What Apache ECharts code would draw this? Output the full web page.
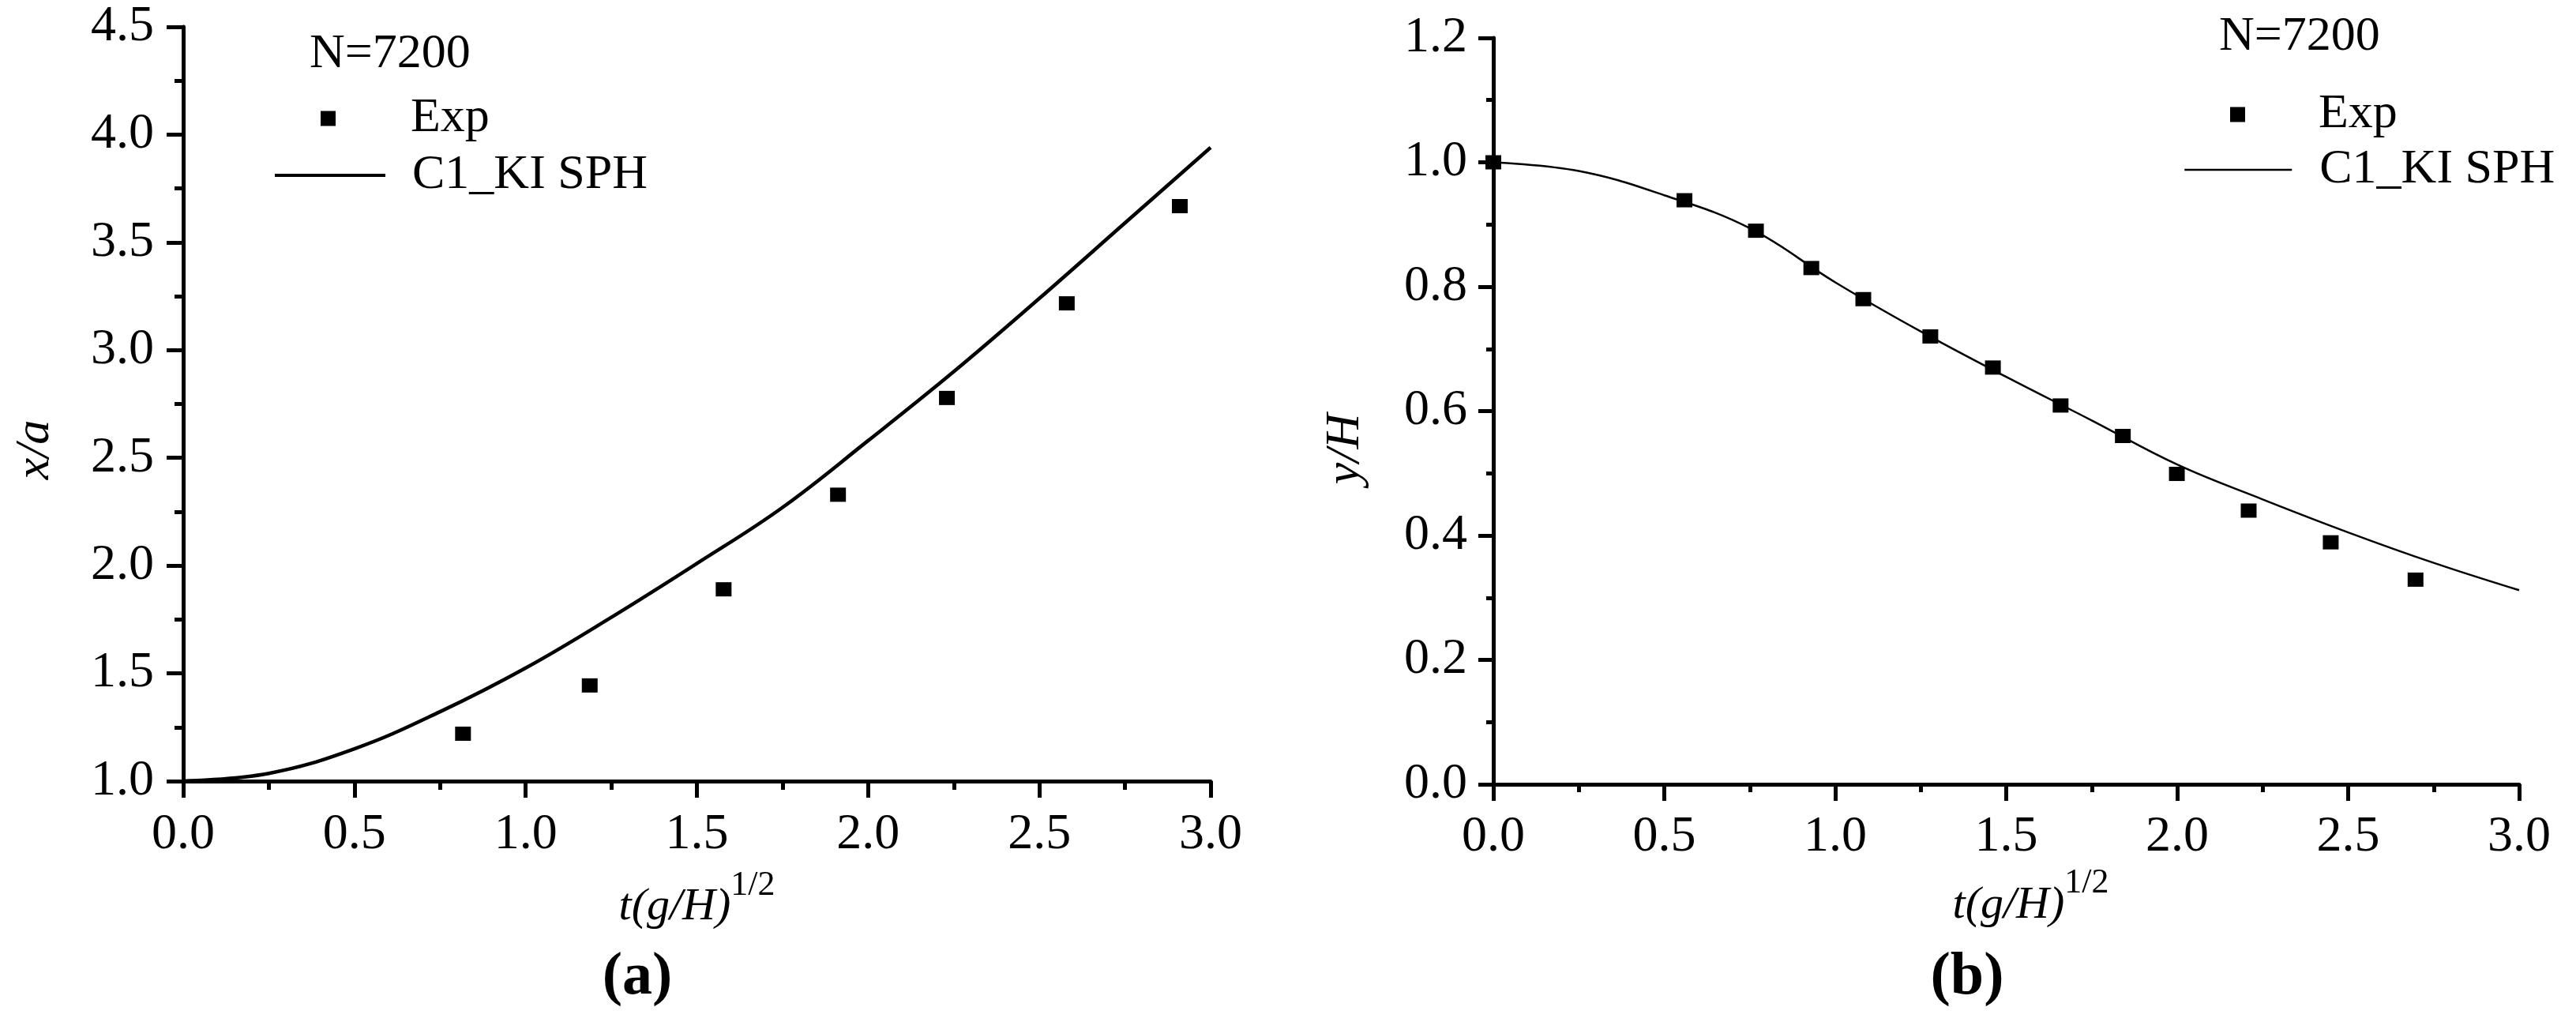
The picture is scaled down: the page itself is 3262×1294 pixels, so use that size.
<!DOCTYPE html>
<html><head><meta charset="utf-8">
<script src="https://cdn.jsdelivr.net/npm/echarts/dist/echarts.min.js"></script>
<style>html,body{margin:0;padding:0;background:#fff}#c{width:3262px;height:1294px}</style>
</head><body><div id="c"></div>
<script>
// ---- data ----
const tTicks = [0.0, 0.5, 1.0, 1.5, 2.0, 2.5, 3.0];
const xaTicks = [1.0, 1.5, 2.0, 2.5, 3.0, 3.5, 4.0, 4.5];
const yhTicks = [0.0, 0.2, 0.4, 0.6, 0.8, 1.0, 1.2];

// (a) x/a
const expA_t = [0.817, 1.187, 1.578, 1.912, 2.230, 2.580, 2.910];
const expA_x = [1.220, 1.444, 1.890, 2.329, 2.778, 3.217, 3.668];
const sphA_t = [0, 0.25, 0.5, 0.75, 1.0, 1.25, 1.5, 1.75, 2.0, 2.25, 2.5, 2.75, 3.0];
const sphA_x = [1.0, 1.036, 1.15, 1.322, 1.525, 1.76, 2.01, 2.27, 2.58, 2.90, 3.24, 3.59, 3.94];

// (b) y/H
const expB_t = [0.0, 0.559, 0.768, 0.930, 1.082, 1.278, 1.461, 1.659, 1.841, 1.999, 2.209, 2.449, 2.697];
const expB_y = [1.0, 0.939, 0.890, 0.830, 0.780, 0.720, 0.670, 0.609, 0.560, 0.499, 0.440, 0.389, 0.329];
const sphB_t = [0, 0.25, 0.5, 0.75, 1.0, 1.25, 1.5, 1.75, 2.0, 2.25, 2.5, 2.75, 3.0];
const sphB_y = [1.0, 0.986, 0.947, 0.894, 0.807, 0.728, 0.655, 0.585, 0.514, 0.458, 0.405, 0.356, 0.312];

const legendNames = ['Exp', 'C1_KI SPH'];
const labelN = 'N=7200';
const panelLabels = ['(a)', '(b)'];
const xName = ['t(g/H)', '1/2'];
const yNames = ['x/a', 'y/H'];

// ---- build ----
const zip = (a, b) => a.map((v, i) => [v, b[i]]);
const SERIF = 'Liberation Serif';

function axisCommon(ticks, margin, majorLen, minorLen) {
  return {
    type: 'value',
    min: ticks[0], max: ticks[ticks.length - 1], interval: ticks[1] - ticks[0],
    axisLine: { show: true, onZero: false, lineStyle: { color: '#000', width: 5 } },
    axisTick: { show: true, length: majorLen, lineStyle: { color: '#000', width: 5 } },
    minorTick: { show: true, splitNumber: 2, length: minorLen, lineStyle: { color: '#000', width: 5 } },
    splitLine: { show: false }, minorSplitLine: { show: false },
    axisLabel: { margin: margin, fontFamily: SERIF, fontSize: 64, color: '#000', formatter: v => v.toFixed(1) }
  };
}
function xNameCfg(gap, padLeft) {
  return {
    name: '{t|' + xName[0] + '}{s|' + xName[1] + '}',
    nameLocation: 'middle', nameGap: gap,
    nameTextStyle: {
      fontFamily: SERIF, fontSize: 58, color: '#000',
      padding: [0, 0, 0, padLeft],
      rich: {
        t: { fontFamily: SERIF, fontStyle: 'italic', fontSize: 58, lineHeight: 100, color: '#000' },
        s: { fontFamily: SERIF, fontSize: 44, lineHeight: 44, verticalAlign: 'top', color: '#000' }
      }
    }
  };
}
function yNameCfg(name, gap, pad) {
  return {
    name: name, nameLocation: 'middle', nameGap: gap, nameRotate: 90,
    nameTextStyle: { fontFamily: SERIF, fontStyle: 'italic', fontSize: 62, color: '#000', padding: [0, pad, 0, 0] }
  };
}

const option = {
  backgroundColor: '#fff',
  animation: false,
  grid: [
    { left: 232, top: 34, width: 1301, height: 955, outerBoundsMode: 'none', containLabel: false },
    { left: 1891, top: 48, width: 1299, height: 945, outerBoundsMode: 'none', containLabel: false }
  ],
  xAxis: [
    Object.assign(axisCommon(tTicks, 36, 21, 11), { gridIndex: 0 }, xNameCfg(110, 0)),
    Object.assign(axisCommon(tTicks, 35, 21, 10), { gridIndex: 1 }, xNameCfg(81, 62))
  ],
  yAxis: [
    Object.assign(axisCommon(xaTicks, 37, 21, 11), { gridIndex: 0 }, yNameCfg(yNames[0], 156, 116)),
    Object.assign(axisCommon(yhTicks, 33, 19, 9), { gridIndex: 1 }, yNameCfg(yNames[1], 156, 96))
  ],
  legend: [
    { left: 406, top: 115, padding: 0, itemWidth: 19, itemHeight: 19, data: [{ name: legendNames[0], icon: 'rect' }],
      selectedMode: false, itemStyle: { color: '#000', opacity: 1 },
      textStyle: { fontFamily: SERIF, fontSize: 62, lineHeight: 70, color: '#000', padding: [0, 0, 0, 90] } },
    { left: 346, top: 187, padding: 0, itemWidth: 140, itemHeight: 20, data: [{ name: legendNames[1] }],
      selectedMode: false, itemStyle: { opacity: 0 }, lineStyle: { width: 4, color: '#000' },
      textStyle: { fontFamily: SERIF, fontSize: 62, lineHeight: 70, color: '#000', padding: [0, 0, 0, 29] } },
    { left: 2824, top: 110, padding: 0, itemWidth: 19, itemHeight: 19, data: [{ name: legendNames[0], icon: 'rect' }],
      selectedMode: false, itemStyle: { color: '#000', opacity: 1 },
      textStyle: { fontFamily: SERIF, fontSize: 62, lineHeight: 70, color: '#000', padding: [0, 0, 0, 88] } },
    { left: 2765, top: 180, padding: 0, itemWidth: 136, itemHeight: 20, data: [{ name: legendNames[1] }],
      selectedMode: false, itemStyle: { opacity: 0 }, lineStyle: { width: 2.5, color: '#000' },
      textStyle: { fontFamily: SERIF, fontSize: 62, lineHeight: 70, color: '#000', padding: [0, 0, 0, 30] } }
  ],
  graphic: [
    { type: 'text', left: 392, top: 38, style: { text: labelN, font: '62px "Liberation Serif"', fill: '#000' } },
    { type: 'text', left: 2810, top: 16, style: { text: labelN, font: '62px "Liberation Serif"', fill: '#000' } },
    { type: 'text', x: 807, y: 1238, style: { text: panelLabels[0], font: 'bold 76px "Liberation Serif"', fill: '#000', align: 'center', verticalAlign: 'middle' } },
    { type: 'text', x: 2491, y: 1238, style: { text: panelLabels[1], font: 'bold 76px "Liberation Serif"', fill: '#000', align: 'center', verticalAlign: 'middle' } }
  ],
  series: [
    { name: legendNames[1], type: 'line', xAxisIndex: 0, yAxisIndex: 0, data: zip(sphA_t, sphA_x), smooth: 0.4,
      symbol: 'none', color: '#000', lineStyle: { color: '#000', width: 4.5 }, z: 2 },
    { name: legendNames[0], type: 'scatter', xAxisIndex: 0, yAxisIndex: 0, data: zip(expA_t, expA_x),
      symbol: 'rect', symbolSize: [20, 18], color: '#000', itemStyle: { color: '#000', opacity: 1 }, z: 3 },
    { name: legendNames[1], type: 'line', xAxisIndex: 1, yAxisIndex: 1, data: zip(sphB_t, sphB_y), smooth: 0.4,
      symbol: 'none', color: '#000', lineStyle: { color: '#000', width: 2.5 }, z: 2 },
    { name: legendNames[0], type: 'scatter', xAxisIndex: 1, yAxisIndex: 1, data: zip(expB_t, expB_y),
      symbol: 'rect', symbolSize: [20, 18], color: '#000', itemStyle: { color: '#000', opacity: 1 }, z: 3 }
  ]
};
const chart = echarts.init(document.getElementById('c'), null, { renderer: 'canvas' });
chart.setOption(option);
</script>
</body></html>
